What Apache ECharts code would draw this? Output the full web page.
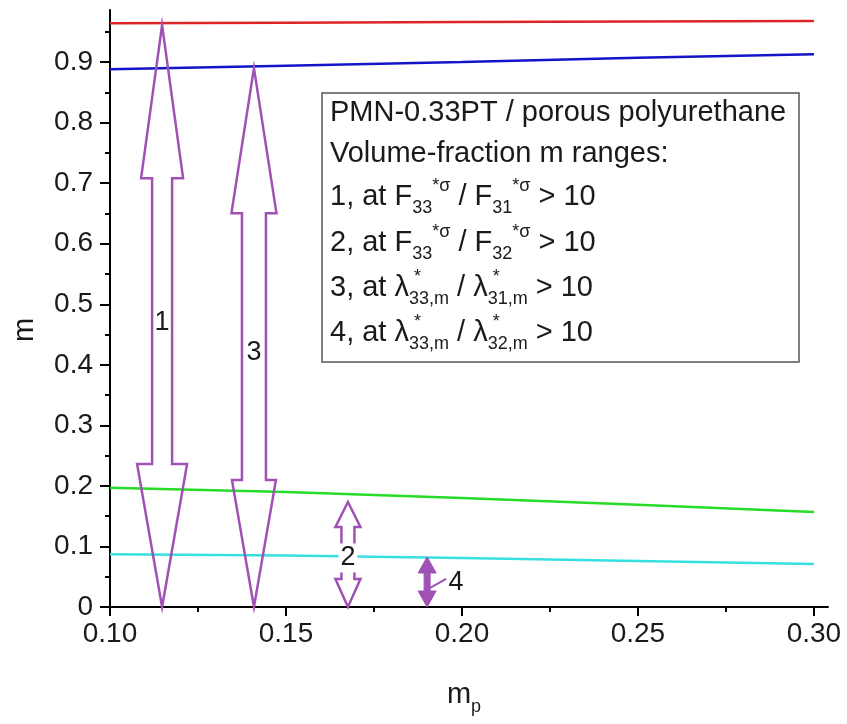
<!DOCTYPE html>
<html><head><meta charset="utf-8">
<script src="https://cdn.jsdelivr.net/npm/echarts@6/dist/echarts.min.js"></script>
<style>html,body{margin:0;padding:0;background:#fff}#c{width:847px;height:724px}</style>
</head><body><div id="c"></div>
<script>
// ---- data ----
const mpValues   = [0.10, 0.15, 0.20, 0.25, 0.30];
const redLine    = [0.964, 0.965, 0.966, 0.967, 0.968];
const blueLine   = [0.888, 0.894, 0.900, 0.907, 0.913];
const greenLine  = [0.197, 0.190, 0.180, 0.169, 0.157];
const cyanLine   = [0.087, 0.085, 0.081, 0.076, 0.071];

const xTicks      = [0.10, 0.15, 0.20, 0.25, 0.30];
const xMinorTicks = [0.125, 0.175, 0.225, 0.275];
const yTicks      = [0, 0.1, 0.2, 0.3, 0.4, 0.5, 0.6, 0.7, 0.8, 0.9];
const yMinorTicks = [0.05, 0.15, 0.25, 0.35, 0.45, 0.55, 0.65, 0.75, 0.85, 0.95];

const arrowNames  = ['1', '2', '3', '4'];
const arrowX      = [0.1148, 0.1676, 0.1409, 0.1901];
const arrowLow    = [0, 0, 0, 0];
const arrowHigh   = [0.961, 0.1734, 0.890, 0.0826];
const arrowLabelY = [0.47, 0.081, 0.42, 0.040];

const legendLines = [
  'PMN-0.33PT / porous polyurethane',
  'Volume-fraction m ranges:',
  '1, at F{sub|33}{sup|*σ} / F{sub|31}{sup|*σ} > 10',
  '2, at F{sub|33}{sup|*σ} / F{sub|32}{sup|*σ} > 10',
  '3, at λ{st| *}{sub|33,m} / λ{st| *}{sub|31,m} > 10',
  '4, at λ{st| *}{sub|33,m} / λ{st| *}{sub|32,m} > 10'
];

// ---- styles ----
const FONT = "'Liberation Sans', Arial, Helvetica, sans-serif";
const PURPLE = '#a052b4';
const arrowShape = [
  {ht: 153, hb: 143, hht: 21, hhb: 25, sh: 10, fill: false},
  {ht: 25,  hb: 28,  hht: 12.5, hhb: 12.5, sh: 6.5, fill: false, labelBg: true},
  {ht: 145, hb: 127, hht: 22.5, hhb: 22, sh: 12, fill: false},
  {ht: 16,  hb: 16,  hht: 9, hhb: 9, sh: 3, fill: true, labelDx: 29, leader: true}
];
const legendY = [113, 154, 197, 243, 288, 333];

const zip = (xs, ys) => xs.map((x, i) => [x, ys[i]]);
const richStyles = {
  sub: {fontSize: 18, lineHeight: 18, verticalAlign: 'bottom', fontFamily: FONT, fill: '#1a1a1a', color: '#1a1a1a'},
  sup: {fontSize: 18, lineHeight: 18, verticalAlign: 'top', fontFamily: FONT, fill: '#1a1a1a', color: '#1a1a1a'},
  st:  {fontSize: 18, lineHeight: 18, verticalAlign: 'top', width: 0, fontFamily: FONT, fill: '#1a1a1a', color: '#1a1a1a'}
};

function lineSeries(data, color) {
  return {type: 'line', data: zip(mpValues, data), showSymbol: false, smooth: false,
    lineStyle: {color: color, width: 2.5}, z: 2, silent: true};
}

const chart = echarts.init(document.getElementById('c'), null, {renderer: 'canvas'});
const option = {
  backgroundColor: '#fff',
  animation: false,
  grid: {left: 110, right: 19, top: 10, bottom: 117, containLabel: false},
  xAxis: [
    {type: 'value', min: 0.10, max: 0.304, position: 'bottom',
     axisLine: {lineStyle: {color: '#000', width: 2}},
     axisTick: {customValues: xTicks, length: 9, lineStyle: {color: '#000', width: 2}},
     axisLabel: {customValues: xTicks, formatter: v => v.toFixed(2), fontSize: 28, fontFamily: FONT, color: '#1a1a1a', margin: 13},
     splitLine: {show: false}},
    {type: 'value', min: 0.10, max: 0.304, position: 'bottom',
     axisLine: {show: false},
     axisTick: {customValues: xMinorTicks, length: 5, lineStyle: {color: '#000', width: 2}},
     axisLabel: {show: false}, splitLine: {show: false}}
  ],
  yAxis: [
    {type: 'value', min: 0, max: 0.986, position: 'left',
     axisLine: {lineStyle: {color: '#000', width: 2}},
     axisTick: {customValues: yTicks, length: 10, lineStyle: {color: '#000', width: 2}},
     axisLabel: {customValues: yTicks, formatter: v => (v === 0 ? '0' : v.toFixed(1)), fontSize: 28, fontFamily: FONT, color: '#1a1a1a', margin: 17},
     splitLine: {show: false}},
    {type: 'value', min: 0, max: 0.986, position: 'left',
     axisLine: {show: false},
     axisTick: {customValues: yMinorTicks, length: 5, lineStyle: {color: '#000', width: 2}},
     axisLabel: {show: false}, splitLine: {show: false}}
  ],
  series: [
    lineSeries(redLine, '#dc2424'),
    lineSeries(blueLine, '#1414c8'),
    lineSeries(greenLine, '#26dc26'),
    lineSeries(cyanLine, '#36e0e0'),
    {
      type: 'custom', z: 3, silent: true,
      data: arrowX.map((x, i) => [x, arrowLow[i], arrowHigh[i], arrowLabelY[i]]),
      encode: {x: 0, y: [1, 2]},
      renderItem: function (params, api) {
        const i = params.dataIndex;
        const s = arrowShape[i];
        const top = api.coord([api.value(0), api.value(2)]);
        const bot = api.coord([api.value(0), api.value(1)]);
        const lab = api.coord([api.value(0), api.value(3)]);
        const cx = top[0], t = top[1], b = bot[1];
        const pts = [[cx, t], [cx + s.hht, t + s.ht], [cx + s.sh, t + s.ht], [cx + s.sh, b - s.hb],
          [cx + s.hhb, b - s.hb], [cx, b], [cx - s.hhb, b - s.hb], [cx - s.sh, b - s.hb],
          [cx - s.sh, t + s.ht], [cx - s.hht, t + s.ht]];
        const children = [{
          type: 'polygon', shape: {points: pts},
          style: {fill: s.fill ? PURPLE : 'none', stroke: PURPLE, lineWidth: s.fill ? 1 : 2.5, lineJoin: 'miter'}
        }];
        if (s.leader) {
          children.push({type: 'line', shape: {x1: cx + 3, y1: lab[1] + 5, x2: cx + 19, y2: lab[1] - 4},
            style: {stroke: PURPLE, lineWidth: 2}});
        }
        children.push({
          type: 'text', x: cx + (s.labelDx || 0), y: lab[1],
          style: {text: arrowNames[i], fontSize: 27, fontFamily: FONT, fill: '#1a1a1a',
            align: 'center', verticalAlign: 'middle',
            backgroundColor: s.labelBg ? '#fff' : 'transparent', padding: s.labelBg ? [1, 2] : 0}
        });
        return {type: 'group', children: children};
      }
    }
  ],
  graphic: [
    {type: 'rect', z: 10, shape: {x: 322, y: 93, width: 477, height: 269},
     style: {fill: '#fff', stroke: '#555', lineWidth: 1.5}},
    ...legendLines.map((txt, i) => ({
      type: 'text', z: 11, x: 330, y: legendY[i],
      style: {text: txt, fontSize: 29, fontFamily: FONT, fill: '#1a1a1a', lineHeight: 40,
        align: 'left', verticalAlign: 'middle', rich: richStyles}
    })),
    {type: 'text', z: 11, x: 25, y: 330, rotation: Math.PI / 2,
     style: {text: 'm', fontSize: 29, fontFamily: FONT, fill: '#1a1a1a', align: 'center', verticalAlign: 'middle'}},
    {type: 'text', z: 11, x: 464, y: 695,
     style: {text: 'm{sub|p}', fontSize: 29, fontFamily: FONT, fill: '#1a1a1a', lineHeight: 42,
       align: 'center', verticalAlign: 'middle', rich: richStyles}}
  ]
};
chart.setOption(option);
</script>
</body></html>
